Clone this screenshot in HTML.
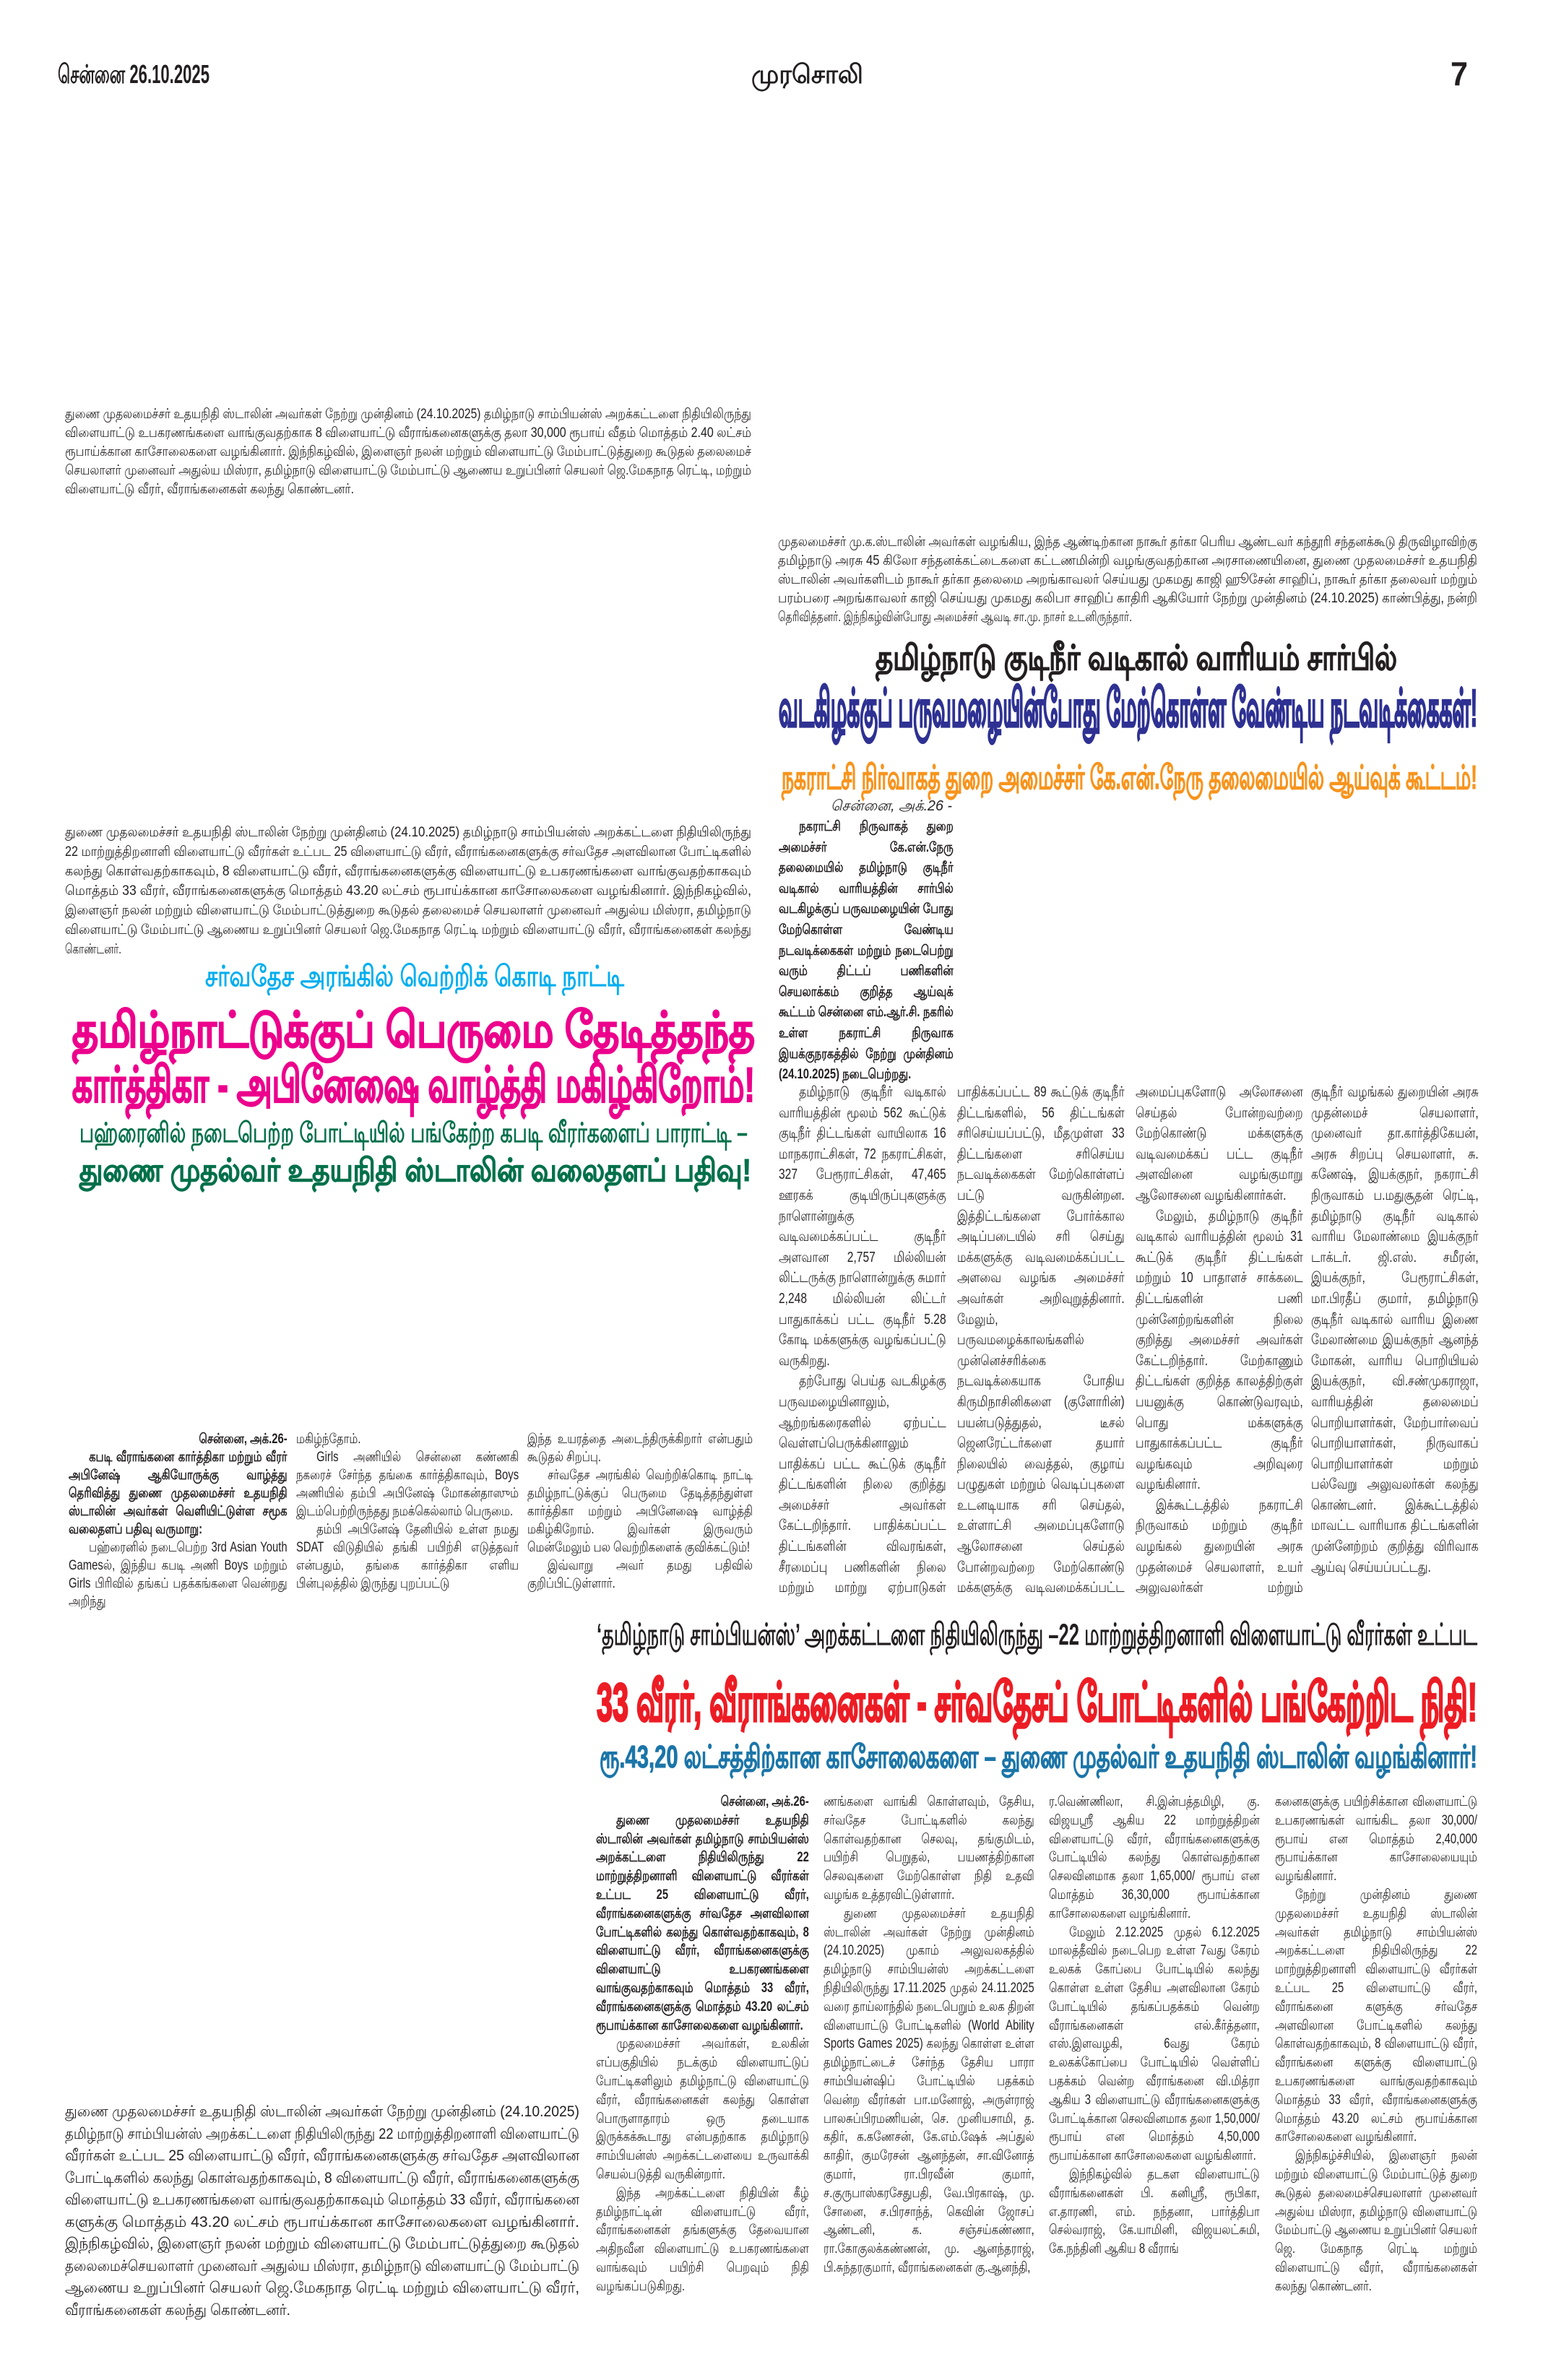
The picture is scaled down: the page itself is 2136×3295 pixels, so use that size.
<!DOCTYPE html>
<html><head><meta charset="utf-8">
<style>
html,body{margin:0;padding:0;background:#fff;}
body{width:2136px;height:3295px;position:relative;overflow:hidden;font-family:"Liberation Sans","DejaVu Sans",sans-serif;color:#231f20;}
.fit{position:absolute;white-space:nowrap;transform-origin:0 50%;}
.col{position:absolute;text-align:justify;overflow:hidden;color:#231f20;transform:scaleX(0.78);transform-origin:0 0;}
.col p{margin:0;text-indent:36px;}
.col p.ni{text-indent:0;}
.b{font-weight:bold;}
.hd{font-weight:bold;}
</style></head><body>

<!-- header -->
<div class="fit hd" style="left:80px;top:82px;font-size:36px;line-height:42px;" data-w="210">சென்னை 26.10.2025</div>
<div class="fit hd" style="left:1040px;top:82px;font-size:36px;line-height:42px;" data-w="155">முரசொலி</div>
<div class="fit hd" style="left:2008px;top:78px;font-size:46px;line-height:48px;" data-w="24">7</div>

<!-- caption 1 -->
<div class="fit" style="left:90px;top:561px;font-size:19px;line-height:26px;" data-w="950">துணை முதலமைச்சர் உதயநிதி ஸ்டாலின் அவர்கள் நேற்று முன்தினம் (24.10.2025) தமிழ்நாடு சாம்பியன்ஸ் அறக்கட்டளை நிதியிலிருந்து</div>
<div class="fit" style="left:90px;top:587px;font-size:19px;line-height:26px;" data-w="950">விளையாட்டு உபகரணங்களை வாங்குவதற்காக 8 விளையாட்டு வீராங்கனைகளுக்கு தலா 30,000 ரூபாய் வீதம் மொத்தம் 2.40 லட்சம்</div>
<div class="fit" style="left:90px;top:613px;font-size:19px;line-height:26px;" data-w="950">ரூபாய்க்கான காசோலைகளை வழங்கினார். இந்நிகழ்வில், இளைஞர் நலன் மற்றும் விளையாட்டு மேம்பாட்டுத்துறை கூடுதல் தலைமைச்</div>
<div class="fit" style="left:90px;top:639px;font-size:19px;line-height:26px;" data-w="950">செயலாளர் முனைவர் அதுல்ய மிஸ்ரா, தமிழ்நாடு விளையாட்டு மேம்பாட்டு ஆணைய உறுப்பினர் செயலர் ஜெ.மேகநாத ரெட்டி, மற்றும்</div>
<div class="fit" style="left:90px;top:665px;font-size:19px;line-height:26px;" data-w="400">விளையாட்டு வீரர், வீராங்கனைகள் கலந்து கொண்டனர்.</div>

<!-- caption 2 -->
<div class="fit" style="left:1077px;top:738px;font-size:19px;line-height:26px;" data-w="968">முதலமைச்சர் மு.க.ஸ்டாலின் அவர்கள் வழங்கிய, இந்த ஆண்டிற்கான நாகூர் தர்கா பெரிய ஆண்டவர் கந்தூரி சந்தனக்கூடு திருவிழாவிற்கு</div>
<div class="fit" style="left:1077px;top:764px;font-size:19px;line-height:26px;" data-w="968">தமிழ்நாடு அரசு 45 கிலோ சந்தனக்கட்டைகளை கட்டணமின்றி வழங்குவதற்கான அரசாணையினை, துணை முதலமைச்சர் உதயநிதி</div>
<div class="fit" style="left:1077px;top:790px;font-size:19px;line-height:26px;" data-w="968">ஸ்டாலின் அவர்களிடம் நாகூர் தர்கா தலைமை அறங்காவலர் செய்யது முகமது காஜி ஹூசேன் சாஹிப், நாகூர் தர்கா தலைவர் மற்றும்</div>
<div class="fit" style="left:1077px;top:816px;font-size:19px;line-height:26px;" data-w="968">பரம்பரை அறங்காவலர் காஜி செய்யது முகமது கலிபா சாஹிப் காதிரி ஆகியோர் நேற்று முன்தினம் (24.10.2025) காண்பித்து, நன்றி</div>
<div class="fit" style="left:1077px;top:842px;font-size:19px;line-height:26px;" data-w="490">தெரிவித்தனர். இந்நிகழ்வின்போது அமைச்சர் ஆவடி சா.மு. நாசர் உடனிருந்தார்.</div>

<!-- right headlines -->
<div class="fit hd" style="left:1212px;top:884px;font-size:48px;line-height:56px;color:#231f20;-webkit-text-stroke:1px #231f20;" data-w="722">தமிழ்நாடு குடிநீர் வடிகால் வாரியம் சார்பில்</div>
<div class="fit hd" style="left:1078px;top:942px;font-size:72px;line-height:78px;color:#2e3192;-webkit-text-stroke:3px #2e3192;" data-w="967">வடகிழக்குப் பருவமழையின்போது மேற்கொள்ள வேண்டிய நடவடிக்கைகள்!</div>
<div class="fit hd" style="left:1082px;top:1050px;font-size:46px;line-height:52px;color:#f7941d;-webkit-text-stroke:1px #f7941d;" data-w="963">நகராட்சி நிர்வாகத் துறை அமைச்சர் கே.என்.நேரு தலைமையில் ஆய்வுக் கூட்டம்!</div>

<!-- caption 3 -->
<div class="fit" style="left:90px;top:1140px;font-size:19px;line-height:26px;" data-w="950">துணை முதலமைச்சர் உதயநிதி ஸ்டாலின் நேற்று முன்தினம் (24.10.2025) தமிழ்நாடு சாம்பியன்ஸ் அறக்கட்டளை நிதியிலிருந்து</div>
<div class="fit" style="left:90px;top:1167px;font-size:19px;line-height:26px;" data-w="950">22 மாற்றுத்திறனாளி விளையாட்டு வீரர்கள் உட்பட 25 விளையாட்டு வீரர், வீராங்கனைகளுக்கு சர்வதேச அளவிலான போட்டிகளில்</div>
<div class="fit" style="left:90px;top:1194px;font-size:19px;line-height:26px;" data-w="950">கலந்து கொள்வதற்காகவும், 8 விளையாட்டு வீரர், வீராங்கனைகளுக்கு விளையாட்டு உபகரணங்களை வாங்குவதற்காகவும்</div>
<div class="fit" style="left:90px;top:1221px;font-size:19px;line-height:26px;" data-w="950">மொத்தம் 33 வீரர், வீராங்கனைகளுக்கு மொத்தம் 43.20 லட்சம் ரூபாய்க்கான காசோலைகளை வழங்கினார். இந்நிகழ்வில்,</div>
<div class="fit" style="left:90px;top:1248px;font-size:19px;line-height:26px;" data-w="950">இளைஞர் நலன் மற்றும் விளையாட்டு மேம்பாட்டுத்துறை கூடுதல் தலைமைச் செயலாளர் முனைவர் அதுல்ய மிஸ்ரா, தமிழ்நாடு</div>
<div class="fit" style="left:90px;top:1275px;font-size:19px;line-height:26px;" data-w="950">விளையாட்டு மேம்பாட்டு ஆணைய உறுப்பினர் செயலர் ஜெ.மேகநாத ரெட்டி மற்றும் விளையாட்டு வீரர், வீராங்கனைகள் கலந்து</div>
<div class="fit" style="left:90px;top:1302px;font-size:19px;line-height:26px;" data-w="78">கொண்டனர்.</div>

<!-- left headlines -->
<div class="fit hd" style="left:284px;top:1328px;font-size:40px;line-height:48px;color:#00aeef;" data-w="580">சர்வதேச அரங்கில் வெற்றிக் கொடி நாட்டி</div>
<div class="fit hd" style="left:100px;top:1390px;font-size:68px;line-height:72px;color:#ec008c;-webkit-text-stroke:2px #ec008c;" data-w="945">தமிழ்நாட்டுக்குப் பெருமை தேடித்தந்த</div>
<div class="fit hd" style="left:100px;top:1466px;font-size:68px;line-height:72px;color:#ec008c;-webkit-text-stroke:2px #ec008c;" data-w="945">கார்த்திகா - அபினேஷை வாழ்த்தி மகிழ்கிறோம்!</div>
<div class="fit hd" style="left:110px;top:1546px;font-size:38px;line-height:46px;color:#00704a;" data-w="925">பஹ்ரைனில் நடைபெற்ற போட்டியில் பங்கேற்ற கபடி வீரர்களைப் பாராட்டி –</div>
<div class="fit hd" style="left:110px;top:1596px;font-size:44px;line-height:50px;color:#00704a;-webkit-text-stroke:1px #00704a;" data-w="930">துணை முதல்வர் உதயநிதி ஸ்டாலின் வலைதளப் பதிவு!</div>

<!-- right intro column -->
<div class="fit" style="left:1150px;top:1102px;font-size:20px;line-height:28px;font-style:italic;" data-w="168">சென்னை, அக்.26 -</div>
<div class="col b" style="left:1078px;top:1131px;width:310px;height:372px;font-size:19px;line-height:28.6px;">
<p>நகராட்சி நிருவாகத் துறை அமைச்சர் கே.என்.நேரு தலைமையில் தமிழ்நாடு குடிநீர் வடிகால் வாரியத்தின் சார்பில் வடகிழக்குப் பருவமழையின் போது மேற்கொள்ள வேண்டிய நடவடிக்கைகள் மற்றும் நடைபெற்று வரும் திட்டப் பணிகளின் செயலாக்கம் குறித்த ஆய்வுக் கூட்டம் சென்னை எம்.ஆர்.சி. நகரில் உள்ள நகராட்சி நிருவாக இயக்குநரகத்தில் நேற்று முன்தினம் (24.10.2025) நடைபெற்றது.</p>
</div>

<!-- right 4 columns -->
<div class="col" style="left:1078px;top:1498px;width:297px;height:716px;font-size:20px;line-height:28.6px;">
<p>தமிழ்நாடு குடிநீர் வடிகால் வாரியத்தின் மூலம் 562 கூட்டுக் குடிநீர் திட்டங்கள் வாயிலாக 16 மாநகராட்சிகள், 72 நகராட்சிகள், 327 பேரூராட்சிகள், 47,465 ஊரகக் குடியிருப்புகளுக்கு நாளொன்றுக்கு வடிவமைக்கப்பட்ட குடிநீர் அளவான 2,757 மில்லியன் லிட்டருக்கு நாளொன்றுக்கு சுமார் 2,248 மில்லியன் லிட்டர் பாதுகாக்கப் பட்ட குடிநீர் 5.28 கோடி மக்களுக்கு வழங்கப்பட்டு வருகிறது.</p>
<p>தற்போது பெய்த வடகிழக்கு பருவமழையினாலும், ஆற்றங்கரைகளில் ஏற்பட்ட வெள்ளப்பெருக்கினாலும் பாதிக்கப் பட்ட கூட்டுக் குடிநீர் திட்டங்களின் நிலை குறித்து அமைச்சர் அவர்கள் கேட்டறிந்தார். பாதிக்கப்பட்ட திட்டங்களின் விவரங்கள், சீரமைப்பு பணிகளின் நிலை மற்றும் மாற்று ஏற்பாடுகள் குறித்து அலுவலர்கள் விளக்கம் அளித்தனர். மக்களுக்கு தடையின்றி குடிநீர் வழங்குவதை உறுதி செய்ய வேண்டும் என்றும் அவர் தெரிவித்தார்.</p>
</div>
<div class="col" style="left:1325px;top:1498px;width:297px;height:716px;font-size:20px;line-height:28.6px;">
<p class="ni">பாதிக்கப்பட்ட 89 கூட்டுக் குடிநீர் திட்டங்களில், 56 திட்டங்கள் சரிசெய்யப்பட்டு, மீதமுள்ள 33 திட்டங்களை சரிசெய்ய நடவடிக்கைகள் மேற்கொள்ளப் பட்டு வருகின்றன. இத்திட்டங்களை போர்க்கால அடிப்படையில் சரி செய்து மக்களுக்கு வடிவமைக்கப்பட்ட அளவை வழங்க அமைச்சர் அவர்கள் அறிவுறுத்தினார். மேலும், பருவமழைக்காலங்களில் முன்னெச்சரிக்கை நடவடிக்கையாக போதிய கிருமிநாசினிகளை (குளோரின்) பயன்படுத்துதல், டீசல் ஜெனரேட்டர்களை தயார் நிலையில் வைத்தல், குழாய் பழுதுகள் மற்றும் வெடிப்புகளை உடனடியாக சரி செய்தல், உள்ளாட்சி அமைப்புகளோடு ஆலோசனை செய்தல் போன்றவற்றை மேற்கொண்டு மக்களுக்கு வடிவமைக்கப்பட்ட குடிநீர் அளவினை வழங்குமாறு அறிவுறுத்தினார்.</p>
</div>
<div class="col" style="left:1572px;top:1498px;width:297px;height:716px;font-size:20px;line-height:28.6px;">
<p class="ni">அமைப்புகளோடு அலோசனை செய்தல் போன்றவற்றை மேற்கொண்டு மக்களுக்கு வடிவமைக்கப் பட்ட குடிநீர் அளவினை வழங்குமாறு ஆலோசனை வழங்கினார்கள்.</p>
<p>மேலும், தமிழ்நாடு குடிநீர் வடிகால் வாரியத்தின் மூலம் 31 கூட்டுக் குடிநீர் திட்டங்கள் மற்றும் 10 பாதாளச் சாக்கடை திட்டங்களின் பணி முன்னேற்றங்களின் நிலை குறித்து அமைச்சர் அவர்கள் கேட்டறிந்தார். மேற்காணும் திட்டங்கள் குறித்த காலத்திற்குள் பயனுக்கு கொண்டுவரவும், பொது மக்களுக்கு பாதுகாக்கப்பட்ட குடிநீர் வழங்கவும் அறிவுரை வழங்கினார்.</p>
<p>இக்கூட்டத்தில் நகராட்சி நிருவாகம் மற்றும் குடிநீர் வழங்கல் துறையின் அரசு முதன்மைச் செயலாளர், உயர் அலுவலர்கள் மற்றும் பொறியாளர்கள் பலரும் கலந்து கொண்டனர்.</p>
</div>
<div class="col" style="left:1815px;top:1498px;width:297px;height:716px;font-size:20px;line-height:28.6px;">
<p class="ni">குடிநீர் வழங்கல் துறையின் அரசு முதன்மைச் செயலாளர், முனைவர் தா.கார்த்திகேயன், அரசு சிறப்பு செயலாளர், சு. கணேஷ், இயக்குநர், நகராட்சி நிருவாகம் ப.மதுசூதன் ரெட்டி, தமிழ்நாடு குடிநீர் வடிகால் வாரிய மேலாண்மை இயக்குநர் டாக்டர். ஜி.எஸ். சமீரன், இயக்குநர், பேரூராட்சிகள், மா.பிரதீப் குமார், தமிழ்நாடு குடிநீர் வடிகால் வாரிய இணை மேலாண்மை இயக்குநர் ஆனந்த் மோகன், வாரிய பொறியியல் இயக்குநர், வி.சண்முகராஜா, வாரியத்தின் தலைமைப் பொறியாளர்கள், மேற்பார்வைப் பொறியாளர்கள், நிருவாகப் பொறியாளர்கள் மற்றும் பல்வேறு அலுவலர்கள் கலந்து கொண்டனர். இக்கூட்டத்தில் மாவட்ட வாரியாக திட்டங்களின் முன்னேற்றம் குறித்து விரிவாக ஆய்வு செய்யப்பட்டது.</p>
</div>

<!-- left 3 columns -->
<div class="col" style="left:95px;top:1980px;width:388px;height:250px;font-size:19px;line-height:25px;">
<div class="b" style="text-align:right;">சென்னை, அக்.26-</div>
<p class="b">கபடி வீராங்கனை கார்த்திகா மற்றும் வீரர் அபினேஷ் ஆகியோருக்கு வாழ்த்து தெரிவித்து துணை முதலமைச்சர் உதயநிதி ஸ்டாலின் அவர்கள் வெளியிட்டுள்ள சமூக வலைதளப் பதிவு வருமாறு:</p>
<p>பஹ்ரைனில் நடைபெற்ற 3rd Asian Youth Gamesல், இந்திய கபடி அணி Boys மற்றும் Girls பிரிவில் தங்கப் பதக்கங்களை வென்றது அறிந்து</p>
</div>
<div class="col" style="left:410px;top:1980px;width:395px;height:250px;font-size:19px;line-height:25px;">
<p class="ni">மகிழ்ந்தோம்.</p>
<p>Girls அணியில் சென்னை கண்ணகி நகரைச் சேர்ந்த தங்கை கார்த்திகாவும், Boys அணியில் தம்பி அபினேஷ் மோகன்தாஸும் இடம்பெற்றிருந்தது நமக்கெல்லாம் பெருமை.</p>
<p>தம்பி அபினேஷ் தேனியில் உள்ள நமது SDAT விடுதியில் தங்கி பயிற்சி எடுத்தவர் என்பதும், தங்கை கார்த்திகா எளிய பின்புலத்தில் இருந்து புறப்பட்டு</p>
</div>
<div class="col" style="left:730px;top:1980px;width:400px;height:250px;font-size:19px;line-height:25px;">
<p class="ni">இந்த உயரத்தை அடைந்திருக்கிறார் என்பதும் கூடுதல் சிறப்பு.</p>
<p>சர்வதேச அரங்கில் வெற்றிக்கொடி நாட்டி தமிழ்நாட்டுக்குப் பெருமை தேடித்தந்துள்ள கார்த்திகா மற்றும் அபினேஷை வாழ்த்தி மகிழ்கிறோம். இவர்கள் இருவரும் மென்மேலும் பல வெற்றிகளைக் குவிக்கட்டும்!</p>
<p>இவ்வாறு அவர் தமது பதிவில் குறிப்பிட்டுள்ளார்.</p>
</div>

<!-- bottom headlines -->
<div class="fit hd" style="left:826px;top:2239px;font-size:42px;line-height:48px;" data-w="1219">‘தமிழ்நாடு சாம்பியன்ஸ்’ அறக்கட்டளை நிதியிலிருந்து –22 மாற்றுத்திறனாளி விளையாட்டு வீரர்கள் உட்பட</div>
<div class="fit hd" style="left:826px;top:2318px;font-size:74px;line-height:78px;color:#ed1c24;-webkit-text-stroke:3px #ed1c24;" data-w="1219">33 வீரர், வீராங்கனைகள் - சர்வதேசப் போட்டிகளில் பங்கேற்றிட நிதி!</div>
<div class="fit hd" style="left:830px;top:2408px;font-size:44px;line-height:50px;color:#1b75a8;-webkit-text-stroke:1px #1b75a8;" data-w="1215">ரூ.43,20 லட்சத்திற்கான காசோலைகளை – துணை முதல்வர் உதயநிதி ஸ்டாலின் வழங்கினார்!</div>

<!-- bottom columns -->
<div class="col" style="left:825px;top:2482px;width:378px;height:724px;font-size:19px;line-height:25.8px;">
<div class="b" style="text-align:right;">சென்னை, அக்.26-</div>
<p class="b">துணை முதலமைச்சர் உதயநிதி ஸ்டாலின் அவர்கள் தமிழ்நாடு சாம்பியன்ஸ் அறக்கட்டளை நிதியிலிருந்து 22 மாற்றுத்திறனாளி விளையாட்டு வீரர்கள் உட்பட 25 விளையாட்டு வீரர், வீராங்கனைகளுக்கு சர்வதேச அளவிலான போட்டிகளில் கலந்து கொள்வதற்காகவும், 8 விளையாட்டு வீரர், வீராங்கனைகளுக்கு விளையாட்டு உபகரணங்களை வாங்குவதற்காகவும் மொத்தம் 33 வீரர், வீராங்கனைகளுக்கு மொத்தம் 43.20 லட்சம் ரூபாய்க்கான காசோலைகளை வழங்கினார்.</p>
<p>முதலமைச்சர் அவர்கள், உலகின் எப்பகுதியில் நடக்கும் விளையாட்டுப் போட்டிகளிலும் தமிழ்நாட்டு விளையாட்டு வீரர், வீராங்கனைகள் கலந்து கொள்ள பொருளாதாரம் ஒரு தடையாக இருக்கக்கூடாது என்பதற்காக தமிழ்நாடு சாம்பியன்ஸ் அறக்கட்டளையை உருவாக்கி செயல்படுத்தி வருகின்றார்.</p>
<p>இந்த அறக்கட்டளை நிதியின் கீழ் தமிழ்நாட்டின் விளையாட்டு வீரர், வீராங்கனைகள் தங்களுக்கு தேவையான அதிநவீன விளையாட்டு உபகரணங்களை வாங்கவும் பயிற்சி பெறவும் நிதி வழங்கப்படுகிறது.</p>
</div>
<div class="col" style="left:1140px;top:2482px;width:374px;height:724px;font-size:19px;line-height:25.8px;">
<p class="ni">ணங்களை வாங்கி கொள்ளவும், தேசிய, சர்வதேச போட்டிகளில் கலந்து கொள்வதற்கான செலவு, தங்குமிடம், பயிற்சி பெறுதல், பயணத்திற்கான செலவுகளை மேற்கொள்ள நிதி உதவி வழங்க உத்தரவிட்டுள்ளார்.</p>
<p>துணை முதலமைச்சர் உதயநிதி ஸ்டாலின் அவர்கள் நேற்று முன்தினம் (24.10.2025) முகாம் அலுவலகத்தில் தமிழ்நாடு சாம்பியன்ஸ் அறக்கட்டளை நிதியிலிருந்து 17.11.2025 முதல் 24.11.2025 வரை தாய்லாந்தில் நடைபெறும் உலக திறன் விளையாட்டு போட்டிகளில் (World Ability Sports Games 2025) கலந்து கொள்ள உள்ள தமிழ்நாட்டைச் சேர்ந்த தேசிய பாரா சாம்பியன்ஷிப் போட்டியில் பதக்கம் வென்ற வீரர்கள் பா.மனோஜ், அருள்ராஜ் பாலசுப்பிரமணியன், செ. முனியசாமி, த. கதிர், க.கணேசன், கே.எம்.ஷேக் அப்துல் காதிர், குமரேசன் ஆனந்தன், சா.வினோத் குமார், ரா.பிரவீன் குமார், ச.குருபாஸ்கரசேதுபதி, வே.பிரகாஷ், மு. சோனை, ச.பிரசாந்த், கெவின் ஜோசப் ஆண்டனி, க. சஞ்சய்கண்ணா, ரா.கோகுலக்கண்ணன், மு. ஆனந்தராஜ், பி.சுந்தரகுமார், வீராங்கனைகள் கு.ஆனந்தி,</p>
</div>
<div class="col" style="left:1452px;top:2482px;width:374px;height:724px;font-size:19px;line-height:25.8px;">
<p class="ni">ர.வெண்ணிலா, சி.இன்பத்தமிழி, கு. விஜயஸ்ரீ ஆகிய 22 மாற்றுத்திறன் விளையாட்டு வீரர், வீராங்கனைகளுக்கு போட்டியில் கலந்து கொள்வதற்கான செலவினமாக தலா 1,65,000/ ரூபாய் என மொத்தம் 36,30,000 ரூபாய்க்கான காசோலைகளை வழங்கினார்.</p>
<p>மேலும் 2.12.2025 முதல் 6.12.2025 மாலத்தீவில் நடைபெற உள்ள 7வது கேரம் உலகக் கோப்பை போட்டியில் கலந்து கொள்ள உள்ள தேசிய அளவிலான கேரம் போட்டியில் தங்கப்பதக்கம் வென்ற வீராங்கனைகள் எல்.கீர்த்தனா, எஸ்.இளவழகி, 6வது கேரம் உலகக்கோப்பை போட்டியில் வெள்ளிப் பதக்கம் வென்ற வீராங்கனை வி.மித்ரா ஆகிய 3 விளையாட்டு வீராங்கனைகளுக்கு போட்டிக்கான செலவினமாக தலா 1,50,000/ ரூபாய் என மொத்தம் 4,50,000 ரூபாய்க்கான காசோலைகளை வழங்கினார்.</p>
<p>இந்நிகழ்வில் தடகள விளையாட்டு வீராங்கனைகள் பி. கனிஸ்ரீ, ரூபிகா, எ.தாரணி, எம். நந்தனா, பார்த்திபா செல்வராஜ், கே.யாமினி, விஜயலட்சுமி, கே.நந்தினி ஆகிய 8 வீராங்</p>
</div>
<div class="col" style="left:1765px;top:2482px;width:359px;height:724px;font-size:19px;line-height:25.8px;">
<p class="ni">கனைகளுக்கு பயிற்சிக்கான விளையாட்டு உபகரணங்கள் வாங்கிட தலா 30,000/ ரூபாய் என மொத்தம் 2,40,000 ரூபாய்க்கான காசோலையையும் வழங்கினார்.</p>
<p>நேற்று முன்தினம் துணை முதலமைச்சர் உதயநிதி ஸ்டாலின் அவர்கள் தமிழ்நாடு சாம்பியன்ஸ் அறக்கட்டளை நிதியிலிருந்து 22 மாற்றுத்திறனாளி விளையாட்டு வீரர்கள் உட்பட 25 விளையாட்டு வீரர், வீராங்கனை களுக்கு சர்வதேச அளவிலான போட்டிகளில் கலந்து கொள்வதற்காகவும், 8 விளையாட்டு வீரர், வீராங்கனை களுக்கு விளையாட்டு உபகரணங்களை வாங்குவதற்காகவும் மொத்தம் 33 வீரர், வீராங்கனைகளுக்கு மொத்தம் 43.20 லட்சம் ரூபாய்க்கான காசோலைகளை வழங்கினார்.</p>
<p>இந்நிகழ்ச்சியில், இளைஞர் நலன் மற்றும் விளையாட்டு மேம்பாட்டுத் துறை கூடுதல் தலைமைச்செயலாளர் முனைவர் அதுல்ய மிஸ்ரா, தமிழ்நாடு விளையாட்டு மேம்பாட்டு ஆணைய உறுப்பினர் செயலர் ஜெ. மேகநாத ரெட்டி மற்றும் விளையாட்டு வீரர், வீராங்கனைகள் கலந்து கொண்டனர்.</p>
</div>

<!-- bottom caption -->
<div class="fit" style="left:90px;top:2909px;font-size:21px;line-height:30px;" data-w="712">துணை முதலமைச்சர் உதயநிதி ஸ்டாலின் அவர்கள் நேற்று முன்தினம் (24.10.2025)</div>
<div class="fit" style="left:90px;top:2939.5px;font-size:21px;line-height:30px;" data-w="712">தமிழ்நாடு சாம்பியன்ஸ் அறக்கட்டளை நிதியிலிருந்து 22 மாற்றுத்திறனாளி விளையாட்டு</div>
<div class="fit" style="left:90px;top:2970px;font-size:21px;line-height:30px;" data-w="712">வீரர்கள் உட்பட 25 விளையாட்டு வீரர், வீராங்கனைகளுக்கு சர்வதேச அளவிலான</div>
<div class="fit" style="left:90px;top:3000.5px;font-size:21px;line-height:30px;" data-w="712">போட்டிகளில் கலந்து கொள்வதற்காகவும், 8 விளையாட்டு வீரர், வீராங்கனைகளுக்கு</div>
<div class="fit" style="left:90px;top:3031px;font-size:21px;line-height:30px;" data-w="712">விளையாட்டு உபகரணங்களை வாங்குவதற்காகவும் மொத்தம் 33 வீரர், வீராங்கனை</div>
<div class="fit" style="left:90px;top:3061.5px;font-size:21px;line-height:30px;" data-w="712">களுக்கு மொத்தம் 43.20 லட்சம் ரூபாய்க்கான காசோலைகளை வழங்கினார்.</div>
<div class="fit" style="left:90px;top:3092px;font-size:21px;line-height:30px;" data-w="712">இந்நிகழ்வில், இளைஞர் நலன் மற்றும் விளையாட்டு மேம்பாட்டுத்துறை கூடுதல்</div>
<div class="fit" style="left:90px;top:3122.5px;font-size:21px;line-height:30px;" data-w="712">தலைமைச்செயலாளர் முனைவர் அதுல்ய மிஸ்ரா, தமிழ்நாடு விளையாட்டு மேம்பாட்டு</div>
<div class="fit" style="left:90px;top:3153px;font-size:21px;line-height:30px;" data-w="712">ஆணைய உறுப்பினர் செயலர் ஜெ.மேகநாத ரெட்டி மற்றும் விளையாட்டு வீரர்,</div>
<div class="fit" style="left:90px;top:3183.5px;font-size:21px;line-height:30px;" data-w="312">வீராங்கனைகள் கலந்து கொண்டனர்.</div>

<script>
(function(){
  var els=document.querySelectorAll('.fit');
  for(var i=0;i<els.length;i++){
    var e=els[i];var w=parseFloat(e.getAttribute('data-w'));
    var s=e.getBoundingClientRect().width;
    if(s>0&&w>0){e.style.transform='scaleX('+(w/s)+')';}
  }
})();
</script>
</body></html>
